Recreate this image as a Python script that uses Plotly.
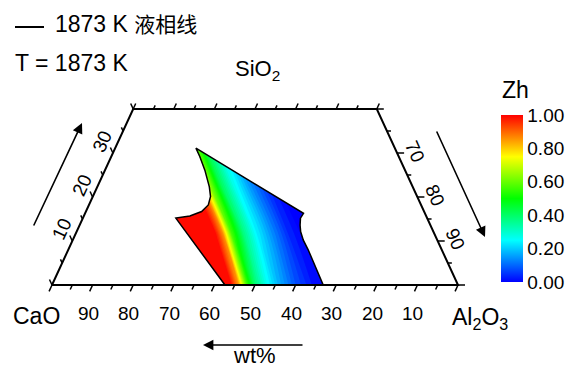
import numpy as np
import plotly.graph_objects as go

# ---------------- data ----------------
# Zh field sampled on a CaO / SiO2 grid (wt%)
cao_grid = [28, 33, 36, 40, 44, 47, 50, 52, 54, 56, 60, 64]
sio2_grid = [0, 12, 24, 34]
zh_grid = [
    [0, 0, 0.02, 0.08, 0.17, 0.26, 0.39, 0.56, 0.85, 1, 1, 1],
    [0, 0, 0.04, 0.14, 0.25, 0.38, 0.58, 0.86, 1, 1, 1, 1],
    [0, 0, 0.05, 0.15, 0.28, 0.42, 0.66, 0.90, 1, 1, 1, 1],
    [0, 0, 0.06, 0.17, 0.31, 0.47, 0.70, 0.92, 1, 1, 1, 1],
]
# 1873 K liquidus boundary (wt% SiO2, wt% CaO)
liq_sio2 = [0, 15.2, 15.7, 16.7, 18.2, 20.1, 22.3, 26.1, 29.2, 31.1,
            16.3, 15.2, 13.6, 12.1, 10.2, 8.0, 0, 0]
liq_cao = [57.4, 61.9, 58.2, 54.8, 52.4, 50.9, 50.1, 49.3, 49.0, 49.0,
           29.9, 31.2, 32.1, 32.7, 33.0, 32.9, 33.2, 57.4]

sio2_max = 40
bottom_ticks = list(range(0, 101, 5))        # CaO
left_ticks = list(range(0, sio2_max + 1, 5))  # SiO2
top_ticks = list(range(0, 100 - sio2_max + 1, 5))  # Al2O3 along top edge
right_ticks = list(range(0, sio2_max + 1, 5))  # SiO2 along right edge
bottom_labels = [90, 80, 70, 60, 50, 40, 30, 20, 10]   # CaO
left_labels = [10, 20, 30]                              # SiO2
right_labels = [70, 80, 90]                             # Al2O3
cbar_ticks = [0.0, 0.2, 0.4, 0.6, 0.8, 1.0]

# ---------------- geometry ----------------
W, H = 571, 368
PX0, PY0, SX, SY = 52.0, 285.0, 4.06, 4.4   # pixel origin and px per wt%

def tx(cao, sio2):
    return 100.0 - np.asarray(cao, float) - np.asarray(sio2, float) / 2.0

def paper(px, py):
    return px / W, 1 - py / H

FONT = "Liberation Sans, Arial, Noto Sans CJK SC, sans-serif"
colorscale = [[0, '#0000ff'], [0.25, '#00ffff'], [0.5, '#00ff00'], [0.75, '#ffff00'], [1, '#ff0000']]

fig = go.Figure()

AA, BB = np.meshgrid(np.array(cao_grid, float), np.array(sio2_grid, float))
hid = dict(showgrid=False, showline=False, showticklabels='none', startline=False,
           endline=False, minorgridcount=0, gridcolor='rgba(0,0,0,0)',
           linecolor='rgba(0,0,0,0)', smoothing=0)
fig.add_trace(go.Carpet(carpet='c1', a=cao_grid, b=sio2_grid,
                        x=tx(AA, BB).tolist(), y=BB.tolist(),
                        aaxis=hid, baxis=hid))
fig.add_trace(go.Contourcarpet(carpet='c1', a=cao_grid, b=sio2_grid, z=zh_grid,
                               autocontour=False,
                               contours=dict(start=0, end=1, size=0.02, coloring='fill', showlines=False),
                               line=dict(width=0), colorscale=colorscale, zmin=0, zmax=1,
                               showscale=False))

# white mask outside the liquidus region
bx = tx(liq_cao, liq_sio2).tolist()
by = list(liq_sio2)
rx = [18, 74, 74, 18, 18]
ry = [0, 0, 34.5, 34.5, 0]
fig.add_trace(go.Scatter(x=rx + bx + [18], y=ry + by + [0], mode='lines', fill='toself',
                         fillcolor='white', line=dict(width=0, color='white'),
                         hoverinfo='skip', showlegend=False))
# liquidus outline
fig.add_trace(go.Scatter(x=bx, y=by, mode='lines', line=dict(color='black', width=1.5),
                         hoverinfo='skip', showlegend=False))

# frame
fx = [0, 100, 100 - sio2_max / 2, sio2_max / 2, 0]
fy = [0, 0, sio2_max, sio2_max, 0]
fig.add_trace(go.Scatter(x=fx, y=fy, mode='lines', line=dict(color='black', width=2),
                         hoverinfo='skip', showlegend=False))

def segs(xs, ys, d, lens):
    ox, oy = [], []
    for x, y, L in zip(xs, ys, lens):
        ox += [x, x + d[0] * L / SX, None]
        oy += [y, y - d[1] * L / SY, None]
    return ox, oy

ux, uy = 20 * SX, 40 * SY
n = (ux ** 2 + uy ** 2) ** 0.5
d_up_right = (ux / n, -uy / n)
d_down_left = (-ux / n, uy / n)
d_up_left = (-ux / n, -uy / n)
d_right = (1.0, 0.0)

tick_x, tick_y = [], []
sx_, sy_ = segs(tx(bottom_ticks, [0] * len(bottom_ticks)), [0] * len(bottom_ticks), d_down_left,
                [7 if v % 10 == 0 else 5 for v in bottom_ticks])
tick_x += sx_; tick_y += sy_
sx_, sy_ = segs([s / 2 for s in left_ticks], left_ticks, d_up_left,
                [6 if v % 10 == 0 else 4 for v in left_ticks])
tick_x += sx_; tick_y += sy_
sx_, sy_ = segs([a + sio2_max / 2 for a in top_ticks], [sio2_max] * len(top_ticks), d_up_right,
                [6 if v % 10 == 0 else 4 for v in top_ticks])
tick_x += sx_; tick_y += sy_
sx_, sy_ = segs([100 - s / 2 for s in right_ticks], right_ticks, d_right,
                [7 if v % 10 == 0 else 4 for v in right_ticks])
tick_x += sx_; tick_y += sy_
fig.add_trace(go.Scatter(x=tick_x, y=tick_y, mode='lines', line=dict(color='black', width=1.5),
                         hoverinfo='skip', showlegend=False))

# colorbar (dummy marker trace)
fig.add_trace(go.Scatter(x=[-100], y=[-100], mode='markers', showlegend=False, hoverinfo='skip',
                         marker=dict(color=[0], cmin=0, cmax=1, colorscale=colorscale, showscale=True,
                                     colorbar=dict(x=501 / W, xanchor='left', xpad=0, ypad=0,
                                                   thickness=22, lenmode='fraction', len=167 / H,
                                                   y=1 - 282 / H, yanchor='bottom', outlinewidth=0,
                                                   tickmode='array', tickvals=cbar_ticks,
                                                   ticktext=[f"{v:.2f}" for v in cbar_ticks],
                                                   ticks='', tickfont=dict(family=FONT, size=19, color='black')))))

ann = []
tf = dict(family=FONT, size=19, color='black')
for v in bottom_labels:
    ann.append(dict(x=100 - v, y=0, xref='x', yref='y', text=str(v), showarrow=False,
                    xshift=-4.6, yshift=-28, font=tf, xanchor='center', yanchor='middle'))
for v in left_labels:
    ann.append(dict(x=v / 2, y=v, xref='x', yref='y', text=str(v), showarrow=False,
                    xshift=-11, yshift=12, textangle=-65, font=tf))
for v in right_labels:
    s = 100 - v
    ann.append(dict(x=100 - s / 2, y=s, xref='x', yref='y', text=str(v), showarrow=False,
                    xshift=18, yshift=2, textangle=66, font=tf))

def txt(px, py, text, size, xanchor='center'):
    x, y = paper(px, py)
    ann.append(dict(x=x, y=y, xref='paper', yref='paper', text=text, showarrow=False,
                    xanchor=xanchor, yanchor='middle', font=dict(family=FONT, size=size, color='black')))

txt(36, 316, 'CaO', 23)
txt(480, 318, 'Al<sub>2</sub>O<sub>3</sub>', 23)
txt(257, 70, 'SiO<sub>2</sub>', 22)
txt(254, 355, 'wt%', 22)
txt(515, 90, 'Zh', 23)
txt(53, 24, '1873 K <span style="font-size:21px">液相线</span>', 23, 'left')
txt(13, 63, 'T = 1873 K', 23, 'left')

def arrow(tail, head):
    x, y = paper(*head)
    ann.append(dict(x=x, y=y, xref='paper', yref='paper', ax=tail[0] - head[0], ay=tail[1] - head[1],
                    axref='pixel', ayref='pixel', text='', showarrow=True, arrowhead=2,
                    arrowsize=1.3, arrowwidth=1.6, arrowcolor='black', standoff=0))

arrow((33, 227), (82, 123))
arrow((436, 130), (485, 237))
arrow((304, 345), (203, 345))

x0, y0 = paper(15, 27)
x1, y1 = paper(44, 27)
shapes = [dict(type='line', xref='paper', yref='paper', x0=x0, y0=y0, x1=x1, y1=y1,
               line=dict(color='black', width=2))]

fig.update_layout(
    width=W, height=H, margin=dict(l=0, r=0, t=0, b=0),
    paper_bgcolor='white', plot_bgcolor='white', showlegend=False,
    xaxis=dict(range=[-PX0 / SX, (W - PX0) / SX], visible=False, fixedrange=True),
    yaxis=dict(range=[-(H - PY0) / SY, PY0 / SY], visible=False, fixedrange=True),
    annotations=ann, shapes=shapes,
)
fig.write_html("out.html")
